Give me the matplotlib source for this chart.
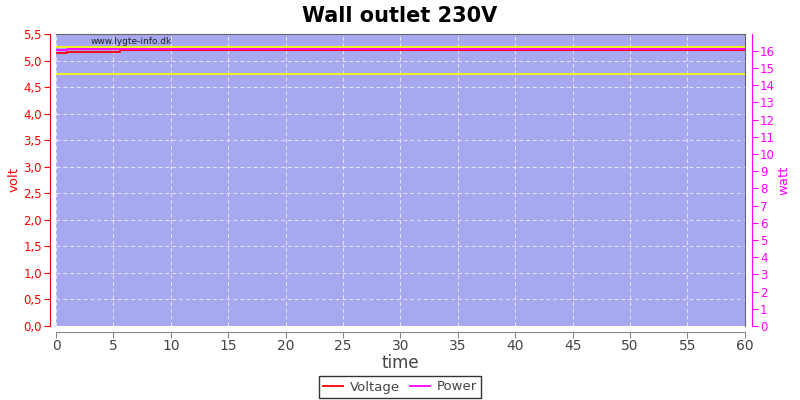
import matplotlib
matplotlib.use("Agg")
import matplotlib.pyplot as plt
from matplotlib.ticker import FuncFormatter, MultipleLocator

time_s = [0, 1.0, 5.6, 60]
voltage = [5.15, 5.17, 5.195, 5.195]
power = [16.03, 16.08, 16.12, 16.12]
limits_v = [5.25, 4.75]

fig = plt.figure(figsize=(8, 4), dpi=100)
ax = fig.add_axes([0.07, 0.185, 0.861, 0.73])
ax.set_facecolor("#a8a8f0")
ax.set_xlim(0, 60)
ax.set_ylim(0, 5.5)
ax2 = ax.twinx()
ax2.set_ylim(0, 16.97)

for y in limits_v:
    ax.axhline(y, color="#ffff00", lw=1.2, zorder=2)
ax.step(time_s, voltage, where="post", color="#ff0000", lw=1.3, zorder=4, label="Voltage")
ax2.step(time_s, power, where="post", color="#ff00ff", lw=1.3, zorder=3, label="Power")

ax.xaxis.set_major_locator(MultipleLocator(5))
ax.yaxis.set_major_locator(MultipleLocator(0.5))
ax2.yaxis.set_major_locator(MultipleLocator(1))
ax2.set_ylim(0, 16.97)
ax.yaxis.set_major_formatter(FuncFormatter(lambda v, p: f"{v:.1f}".replace(".", ",")))
ax.grid(True, color="white", ls=(0, (4, 3)), lw=0.7, alpha=0.7)
ax.set_axisbelow(True)

for s in ["top", "right", "left", "bottom"]:
    ax.spines[s].set_color("#666666")
ax.spines["left"].set_position(("outward", 4))
ax.spines["left"].set_color("#ff0000")
ax.spines["bottom"].set_position(("outward", 4))
ax.spines["bottom"].set_color("#888888")
ax2.spines["right"].set_position(("outward", 5))
ax2.spines["right"].set_color("#ff00ff")
for s in ["top", "left", "bottom"]:
    ax2.spines[s].set_visible(False)

ax.tick_params(axis="y", colors="#ff0000", labelsize=8.5, length=4, pad=2)
ax.tick_params(axis="x", colors="#888888", labelcolor="#444444", labelsize=10, length=4, pad=1)
ax2.tick_params(axis="y", colors="#ff00ff", labelsize=8.5, length=4, pad=2)

ax.set_ylabel("volt", color="#ff0000", fontsize=9.5, labelpad=2)
ax2.set_ylabel("watt", color="#ff00ff", fontsize=9.5, labelpad=2)
ax.set_xlabel("time", color="#444444", fontsize=12, labelpad=1)
fig.suptitle("Wall outlet 230V", fontsize=15, fontweight="bold", y=0.985)

ax.text(3.0, 5.31, "www.lygte-info.dk", fontsize=6.5, color="#222222", zorder=5)

h1, l1 = ax.get_legend_handles_labels()
h2, l2 = ax2.get_legend_handles_labels()
leg = fig.legend(h1 + h2, l1 + l2, loc="center", bbox_to_anchor=(0.5, 0.0325), ncol=2,
                 frameon=True, fancybox=False, edgecolor="black", fontsize=9.5,
                 handlelength=1.5, columnspacing=0.8, handletextpad=0.5, borderpad=0.35)
leg.get_frame().set_linewidth(1.0)
for t in leg.get_texts():
    t.set_color("#444444")

fig.savefig("out.png", dpi=100)
